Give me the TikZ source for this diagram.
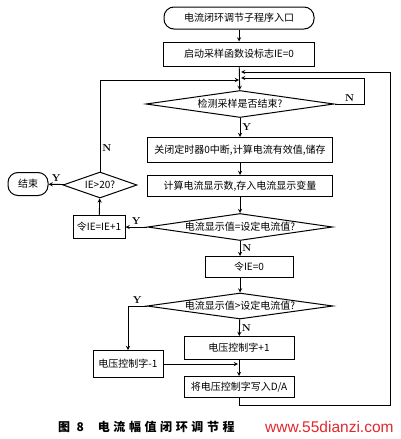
\documentclass[tikz,border=0pt]{standalone}
\usepackage{fontspec}
\newfontfamily\cjk{Noto Sans CJK SC}
\newfontfamily\cjklegenda[LetterSpace=30]{Noto Sans CJK SC}
\setsansfont{Liberation Sans}
\usetikzlibrary{arrows.meta, shapes.geometric}
\definecolor{marca}{RGB}{225, 40, 45}

\begin{document}
\begin{tikzpicture}[
    x=1pt, y=-1pt,
    caixa/.style={
        draw,
        line width=1pt,
        align=center,
        inner sep=1pt,
        font=\cjk\fontsize{10}{12}\selectfont
    },
    inicio/.style={
        caixa,
        rounded corners=10pt
    },
    losango/.style={
        caixa,
        diamond,
        aspect=7,
        inner sep=0pt
    },
    rotulo/.style={
        font=\fontsize{10}{12}\selectfont\bfseries,
        inner sep=2pt
    },
    seta/.style={
        ->,
        >=stealth,
        line width=0.9pt
    }
]
\useasboundingbox (0,0) rectangle (400,439);

% Coluna principal
\node[inicio, minimum width=150, minimum height=22] (entrada) at (239,18) {电流闭环调节子程序入口};
\node[caixa, minimum width=151, minimum height=24] (inicia) at (239,54) {启动采样函数设标志IE=0};
\node[losango, minimum width=188, minimum height=27] (fim) at (240,104) {检测采样是否结束?};
\node[caixa, minimum width=185, minimum height=25] (calcula) at (240,150) {关闭定时器0中断,计算电流有效值,储存};
\node[caixa, minimum width=185, minimum height=21] (exibe) at (240,186) {计算电流显示数,存入电流显示变量};
\node[losango, minimum width=185, minimum height=27] (igual) at (240,227) {电流显示值=设定电流值?};
\node[caixa, minimum width=88, minimum height=21] (zera) at (249,267) {令IE=0};
\node[losango, minimum width=186, minimum height=26] (maior) at (240,306) {电流显示值>设定电流值?};
\node[caixa, minimum width=110, minimum height=23] (mais) at (239,348) {电压控制字+1};
\node[caixa, minimum width=110, minimum height=21] (escreve) at (239,387) {将电压控制字写入D/A};

% Ramo da esquerda
\node[caixa, minimum width=52, minimum height=23] (incr) at (99,227) {令IE=IE+1};
\node[losango, aspect=3, minimum width=74, minimum height=26] (limite) at (100,185) {IE>20?};
\node[inicio, minimum width=40, minimum height=23] (final) at (28,184) {结束};
\node[caixa, minimum width=70, minimum height=27] (menos) at (128,364) {电压控制字-1};

% Pontos de retorno
\coordinate (voltaA) at (241,72);
\coordinate (voltaB) at (241,78);
\coordinate (voltaC) at (239,80);
\coordinate (base) at (390,405);
\coordinate (juncao) at (238,365);

% Setas
\draw[seta] (entrada) -- (inicia);
\draw[seta] (inicia) -- (fim);
\draw[seta] (fim.east) -- node[rotulo, above]{N} ++(30,0) |- (voltaB);
\draw[seta] (fim) -- node[rotulo, right]{Y} (calcula);
\draw[seta] (calcula) -- (exibe);
\draw[seta] (exibe) -- (igual);
\draw[seta] (igual) -- node[rotulo, above]{Y} (incr);
\draw[seta] (igual.south) -- node[rotulo, right]{N} (igual.south |- zera.north);
\draw[seta] (igual.south |- zera.south) -- (maior);
\draw[seta] (maior.west) -- node[rotulo, above]{Y} (maior.west -| menos.north) -- (menos.north);
\draw[seta] (maior) -- node[rotulo, right]{N} (mais);
\draw[seta] (mais) -- (escreve);
\draw[seta] (menos.east) -- (menos.east -| juncao);
\draw[seta] (escreve.south) -- (escreve.south |- base) -- (base) |- (voltaA);

\draw[seta] (incr) -- (limite);
\draw[seta] (limite) -- node[rotulo, above]{Y} (final);
\draw[seta] (limite.north) -- node[rotulo, right, pos=0.26]{N} (limite.north |- voltaC) -- (voltaC);

% Legenda
\node[anchor=west, inner sep=0pt, font=\cjklegenda\fontsize{12}{14}\selectfont\bfseries] (legenda) at (58,427) {图 8\hspace{14pt}电流幅值闭环调节程};
\node[anchor=west, inner sep=0pt, font=\sffamily\fontsize{15.5}{17}\selectfont, text=marca] (site) at (265,427) {www.55dianzi.com};

\end{tikzpicture}
\end{document}
